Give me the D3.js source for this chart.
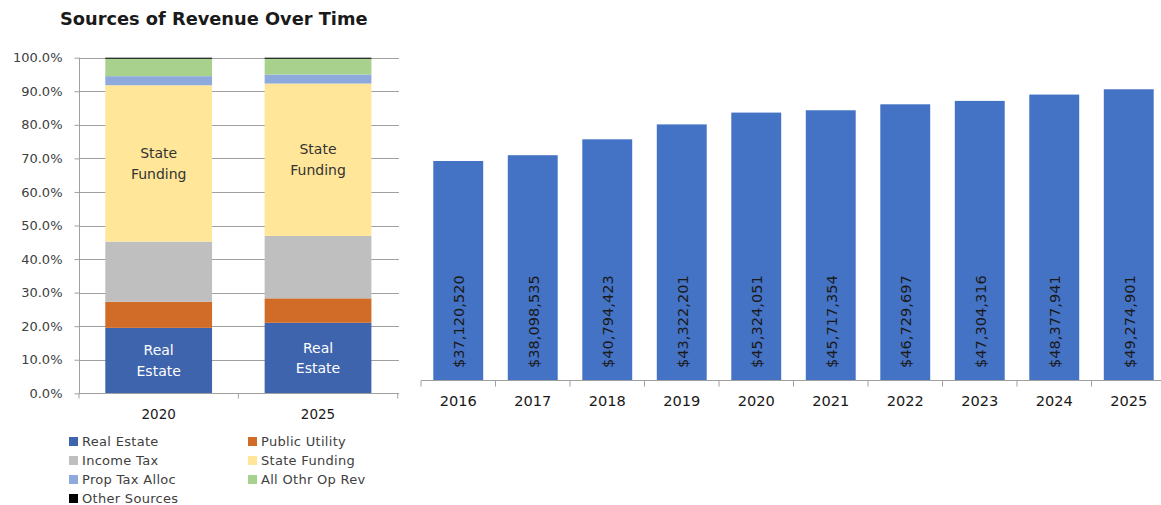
<!DOCTYPE html>
<html><head><meta charset="utf-8">
<script src="https://cdn.jsdelivr.net/npm/d3@7/dist/d3.min.js"></script>
<style>
body{margin:0;background:#fff}
text{font-family:"DejaVu Sans",sans-serif}
</style>
</head><body>
<svg id="c" width="1161" height="505"></svg>
<script>
// ---------- data ----------
const shareYears = ["2020", "2025"];
const sourceNames = ["Real Estate","Public Utility","Income Tax","State Funding","Prop Tax Alloc","All Othr Op Rev","Other Sources"];
const share2020 = [19.5, 7.8, 17.9, 46.6, 2.7, 5.2, 0.3];
const share2025 = [21.0, 7.3, 18.6, 45.4, 2.7, 4.7, 0.3];
const sourceColors = ["#3E64AE","#D16C28","#BFBFBF","#FFE699","#8EA9DB","#A9D18E","#000000"];
const pctTicks = [0,10,20,30,40,50,60,70,80,90,100];
const revenueYears = ["2016","2017","2018","2019","2020","2021","2022","2023","2024","2025"];
const revenueValues = [37120520,38098535,40794423,43322201,45324051,45717354,46729697,47304316,48377941,49274901];
const title = "Sources of Revenue Over Time";

const svg = d3.select("#c");
svg.append("rect").attr("width",1161).attr("height",505).attr("fill","#fff");
const axisColor = "#A0A0A0";

// ---------- title ----------
svg.append("text").attr("x",60).attr("y",25)
  .attr("font-size",17.8).attr("font-weight","bold").attr("fill","#1a1a1a")
  .text(title);

// ---------- left stacked chart ----------
const rows = shareYears.map((y,i)=>{
  const src = i===0?share2020:share2025;
  const o = {year:y};
  sourceNames.forEach((n,j)=>o[n]=src[j]);
  return o;
});
const stack = d3.stack().keys(sourceNames)(rows);
const xL = d3.scaleBand().domain(shareYears).range([79,397.7]).paddingInner(0.33).paddingOuter(0.165);
const yL = d3.scaleLinear().domain([0,100]).range([393.3,57.7]);

const gL = svg.append("g");
gL.selectAll("line.grid").data(pctTicks).join("line")
  .attr("x1",79).attr("x2",399).attr("y1",d=>Math.round(yL(d))+0.5).attr("y2",d=>Math.round(yL(d))+0.5)
  .attr("stroke",axisColor).attr("stroke-width",1);
stack.forEach((layer,k)=>{
  gL.selectAll(null).data(layer).join("rect")
    .attr("x",d=>xL(d.data.year)).attr("width",xL.bandwidth())
    .attr("y",d=>yL(d[1])).attr("height",d=>yL(d[0])-yL(d[1]))
    .attr("fill",sourceColors[k]);
});
const yAxisL = d3.axisLeft(yL).tickValues(pctTicks).tickFormat(d=>d.toFixed(1)+"%").tickSize(5).tickPadding(12);
const ya = gL.append("g").attr("transform","translate(79.5,0)").call(yAxisL);
ya.select(".domain").attr("stroke",axisColor).attr("d","M0,"+yL(100)+"V"+yL(0));
ya.selectAll(".tick line").attr("stroke",axisColor);
ya.selectAll(".tick text").attr("font-size",13).attr("fill","#404040").attr("font-family","DejaVu Sans");
const xa = gL.append("g").attr("transform","translate(0,"+(Math.round(yL(0))+0.5)+")");
xa.append("line").attr("x1",79).attr("x2",399).attr("stroke",axisColor);
const bLeft = [xL.range()[0]].concat(shareYears.map(y=>xL(y)+xL.bandwidth()+xL.step()*xL.paddingOuter()));
xa.selectAll("line.t").data(bLeft).join("line").attr("x1",d=>d).attr("x2",d=>d).attr("y1",0).attr("y2",5).attr("stroke",axisColor);
xa.selectAll("text").data(shareYears).join("text")
  .attr("x",d=>xL(d)+xL.bandwidth()/2).attr("y",25).attr("text-anchor","middle")
  .attr("font-size",13.5).attr("fill","#1a1a1a").text(d=>d);
const segLabels = [{key:"Real Estate",lines:["Real","Estate"],color:"#fff"},{key:"State Funding",lines:["State","Funding"],color:"#333"}];
segLabels.forEach(s=>{
  const k = sourceNames.indexOf(s.key);
  stack[k].forEach(d=>{
    const cx = xL(d.data.year)+xL.bandwidth()/2;
    const cy = (yL(d[0])+yL(d[1]))/2;
    s.lines.forEach((t,i)=>{
      gL.append("text").attr("x",cx).attr("y",cy+(i-0.5)*20.5).attr("dy","0.35em")
        .attr("text-anchor","middle").attr("font-size",14).attr("fill",s.color).text(t);
    });
  });
});
// legend
const lg = svg.append("g");
sourceNames.forEach((n,i)=>{
  const col = i%2, row = Math.floor(i/2);
  const x = col===0?69:248, y = 441.5+row*19;
  lg.append("rect").attr("x",x).attr("y",y-4.5).attr("width",9).attr("height",9).attr("fill",sourceColors[i]);
  lg.append("text").attr("x",x+13).attr("y",y).attr("dy","0.35em").attr("font-size",13).attr("letter-spacing",0.3).attr("fill","#404040").text(n);
});

// ---------- right bar chart ----------
const xR = d3.scaleBand().domain(revenueYears).range([421,1166]).paddingInner(0.33).paddingOuter(0.165);
const yR = d3.scaleLinear().domain([0,60000000]).range([380,26]);
const gR = svg.append("g");
gR.selectAll("rect").data(revenueValues).join("rect")
  .attr("x",(d,i)=>xR(revenueYears[i])).attr("width",xR.bandwidth())
  .attr("y",d=>yR(d)).attr("height",d=>yR(0)-yR(d)).attr("fill","#4472C4");
const fmt = d3.format("$,");
gR.selectAll("text.v").data(revenueValues).join("text")
  .attr("transform",(d,i)=>"translate("+(xR(revenueYears[i])+xR.bandwidth()/2+1)+","+(yR(0)-12)+") rotate(-90)")
  .attr("dy","0.35em").attr("font-size",14.6).attr("fill","#1a1a1a").text(d=>fmt(d));
const xaR = gR.append("g").attr("transform","translate(0,380.5)");
xaR.append("line").attr("x1",421).attr("x2",1161).attr("stroke",axisColor);
const bRight = [421].concat(revenueYears.map(y=>xR(y)+xR.bandwidth()+xR.step()*xR.paddingOuter()));
xaR.selectAll("line.t").data(bRight).join("line").attr("x1",d=>d).attr("x2",d=>d).attr("y1",0).attr("y2",6).attr("stroke",axisColor);
xaR.selectAll("text").data(revenueYears).join("text")
  .attr("x",d=>xR(d)+xR.bandwidth()/2).attr("y",25).attr("text-anchor","middle")
  .attr("font-size",14.6).attr("fill","#1a1a1a").text(d=>d);
</script>
</body></html>
